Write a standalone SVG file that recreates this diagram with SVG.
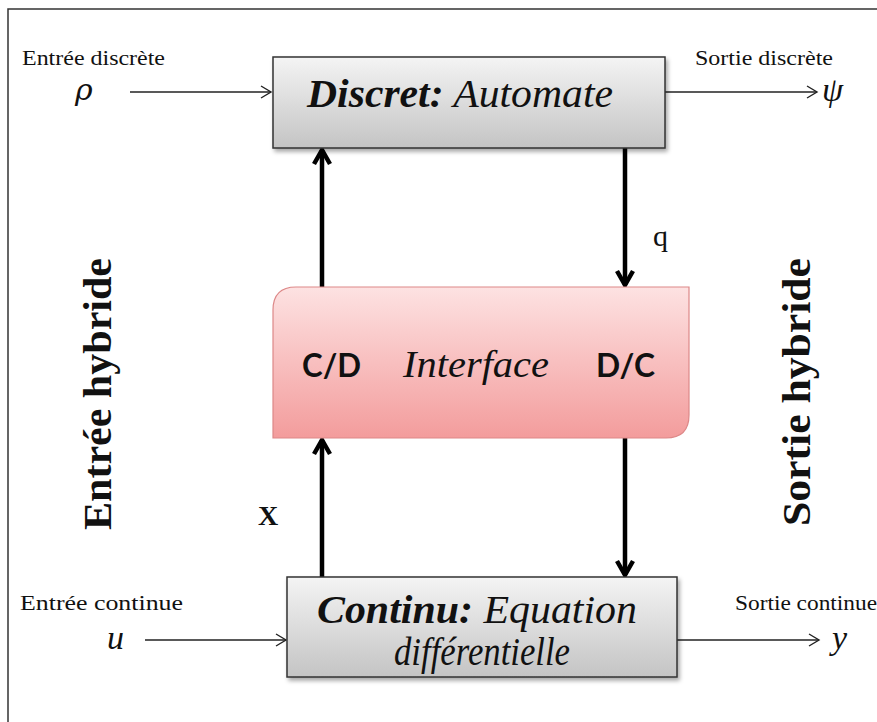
<svg xmlns="http://www.w3.org/2000/svg" width="877" height="722" viewBox="0 0 877 722">
<style>
.small{font-size:22px;fill:#111}
.big{font-size:41px;font-style:italic;fill:#111}
.math{font-style:italic;font-size:34px;fill:#111}
.sans{font-weight:bold;font-size:32px;fill:#111}
.side{font-weight:bold;font-size:40px;fill:#111}
.thin{stroke:#222;stroke-width:1.4;fill:none}
.thick{stroke:#000;stroke-width:4.5;fill:none}
.grey{fill:url(#gGrey);stroke:#333;stroke-width:1.5;filter:url(#sh)}
</style>
<defs>
<linearGradient id="gGrey" x1="0" y1="0" x2="0" y2="1">
<stop offset="0" stop-color="#f4f4f4"/><stop offset="1" stop-color="#c4c4c4"/>
</linearGradient>
<linearGradient id="gPink" x1="0" y1="0" x2="0" y2="1">
<stop offset="0" stop-color="#fde2e2"/><stop offset="1" stop-color="#f39c9c"/>
</linearGradient>
<filter id="sh" x="-5%" y="-5%" width="115%" height="125%">
<feDropShadow dx="2" dy="3" stdDeviation="2" flood-color="#000" flood-opacity="0.35"/>
</filter>
<marker id="open" markerWidth="14" markerHeight="14" refX="12" refY="7" orient="auto" markerUnits="userSpaceOnUse">
<path d="M2,1 L12,7 L2,13" fill="none" stroke="#222" stroke-width="1.4"/>
</marker>
<marker id="bold" markerWidth="20" markerHeight="20" refX="17" refY="10" orient="auto" markerUnits="userSpaceOnUse">
<path d="M3,2 L17,10 L3,18" fill="none" stroke="#000" stroke-width="4.5" stroke-linejoin="miter"/>
</marker>
</defs>
<rect width="877" height="722" fill="#fff"/>
<rect id="frame" x="8" y="9" width="900" height="740" fill="none" stroke="#333" stroke-width="1.5"/>

<g id="connectors">
<line class="thin" x1="130" y1="92" x2="271" y2="92" marker-end="url(#open)"/>
<line class="thin" x1="665" y1="92" x2="817" y2="92" marker-end="url(#open)"/>
<line class="thin" x1="145" y1="640" x2="286" y2="640" marker-end="url(#open)"/>
<line class="thin" x1="677" y1="640" x2="819" y2="640" marker-end="url(#open)"/>
<line class="thick" x1="322" y1="287" x2="322" y2="150" marker-end="url(#bold)"/>
<line class="thick" x1="625" y1="148" x2="625" y2="285" marker-end="url(#bold)"/>
<line class="thick" x1="322" y1="577" x2="322" y2="440" marker-end="url(#bold)"/>
<line class="thick" x1="625" y1="438" x2="625" y2="575" marker-end="url(#bold)"/>
</g>

<g id="discret">
<rect class="grey" x="273" y="57" width="392" height="91"/>
<text class="big" font-family="Liberation Serif, serif" x="307" y="107" textLength="306" lengthAdjust="spacingAndGlyphs"><tspan font-weight="bold">Discret:</tspan> Automate</text>
</g>

<g id="interface">
<path d="M296,287 H689 V415 Q689,438 666,438 H273 V310 Q273,287 296,287 Z" fill="url(#gPink)" stroke="#d88" stroke-width="1.2"/>
<text class="sans" font-family="Lato, Liberation Sans, sans-serif" x="302" y="377" textLength="59" lengthAdjust="spacingAndGlyphs">C/D</text>
<text font-family="Liberation Serif, serif" fill="#111" x="403" y="377" font-size="37" font-style="italic" textLength="146" lengthAdjust="spacingAndGlyphs">Interface</text>
<text class="sans" font-family="Lato, Liberation Sans, sans-serif" x="596" y="377" textLength="59" lengthAdjust="spacingAndGlyphs">D/C</text>
</g>

<g id="continu">
<rect class="grey" x="287" y="577" width="390" height="100"/>
<text class="big" font-family="Liberation Serif, serif" x="317" y="623" textLength="320" lengthAdjust="spacingAndGlyphs"><tspan font-weight="bold">Continu:</tspan> Equation</text>
<text class="big" font-family="Liberation Serif, serif" x="394" y="665" textLength="176" lengthAdjust="spacingAndGlyphs">différentielle</text>
</g>

<g id="labels">
<text class="small" font-family="Liberation Serif, serif" x="22" y="65" textLength="143" lengthAdjust="spacingAndGlyphs">Entrée discrète</text>
<text x="75" y="100" font-family="DejaVu Serif, serif" font-style="italic" font-size="30" fill="#111">ρ</text>
<text class="small" font-family="Liberation Serif, serif" x="695" y="65" textLength="138" lengthAdjust="spacingAndGlyphs">Sortie discrète</text>
<text class="math" font-family="Liberation Serif, serif" x="822" y="101">ψ</text>
<text class="small" font-family="Liberation Serif, serif" x="20" y="610" textLength="163" lengthAdjust="spacingAndGlyphs">Entrée continue</text>
<text class="math" font-family="Liberation Serif, serif" x="107" y="649">u</text>
<text class="small" font-family="Liberation Serif, serif" x="735" y="610" textLength="142" lengthAdjust="spacingAndGlyphs">Sortie continue</text>
<text class="math" font-family="Liberation Serif, serif" x="832" y="649">y</text>
<text font-family="Liberation Serif, serif" fill="#111" x="653" y="246" font-size="30">q</text>
<text font-family="Liberation Serif, serif" fill="#111" x="258" y="525" font-size="28" font-weight="bold">X</text>
<text class="side" font-family="Liberation Serif, serif" transform="translate(111,394) rotate(-90)" text-anchor="middle" textLength="272" lengthAdjust="spacingAndGlyphs">Entrée hybride</text>
<text class="side" font-family="Liberation Serif, serif" transform="translate(810,392) rotate(-90)" text-anchor="middle" textLength="268" lengthAdjust="spacingAndGlyphs">Sortie hybride</text>
</g>
</svg>
